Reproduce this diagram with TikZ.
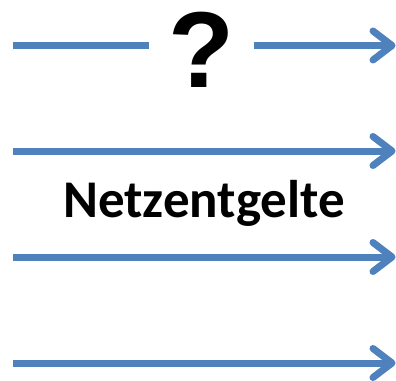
\documentclass[tikz,border=0pt]{standalone}
\usepackage{fontspec}
\setmainfont{Carlito}
\newfontfamily\qfont{Liberation Sans}
\usetikzlibrary{calc}
\definecolor{arrowblue}{RGB}{79,129,189}
\tikzset{
  shaft/.style={draw=arrowblue, line width=7pt, line cap=butt},
  barb/.style={draw=arrowblue, line width=7pt, line cap=round, line join=round},
  lbl/.style={font=\bfseries, text=black, inner sep=0pt, anchor=base}
}
\begin{document}
\begin{tikzpicture}[x=1pt,y=-1pt]
\useasboundingbox (0,0) rectangle (396,380);
% first arrow with gap
\coordinate (s1) at (13,45.5);
\coordinate (g1) at (149,45.5);
\coordinate (g2) at (254,45.5);
\coordinate (t1) at (392,45.5);
\node[lbl, font=\qfont\bfseries\fontsize{108}{108}\selectfont] (q) at (201.5,87) {?};
\draw[shaft] (s1) -- (g1);
\draw[shaft] (g2) -- (t1);
\draw[barb] ($(t1)+(-19,-14.5)$) -- (t1) -- ($(t1)+(-19,14.5)$);
% second arrow
\coordinate (s2) at (13,151);
\coordinate (t2) at (392,151);
\draw[shaft] (s2) -- (t2);
\draw[barb] ($(t2)+(-19,-14.5)$) -- (t2) -- ($(t2)+(-19,14.5)$);
% label
\node[lbl, font=\bfseries\fontsize{53}{53}\selectfont] (n) at (204,217) {Netzentgelte};
% third arrow
\coordinate (s3) at (13,257);
\coordinate (t3) at (392,257);
\draw[shaft] (s3) -- (t3);
\draw[barb] ($(t3)+(-19,-14.5)$) -- (t3) -- ($(t3)+(-19,14.5)$);
% fourth arrow
\coordinate (s4) at (13,363);
\coordinate (t4) at (392,363);
\draw[shaft] (s4) -- (t4);
\draw[barb] ($(t4)+(-19,-14.5)$) -- (t4) -- ($(t4)+(-19,14.5)$);
\end{tikzpicture}
\end{document}
